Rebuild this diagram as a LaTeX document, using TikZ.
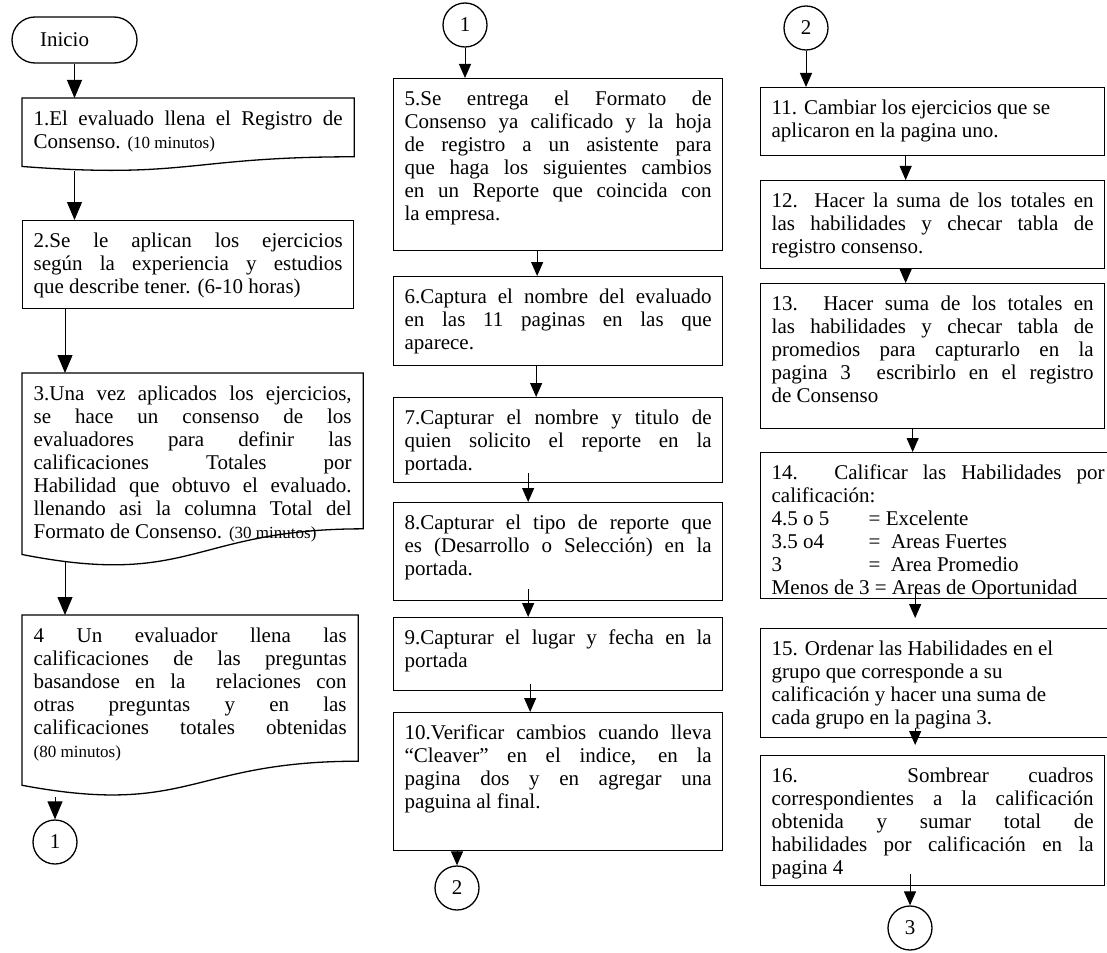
\documentclass[tikz,border=0pt]{standalone}
\usepackage{fontspec}
\setmainfont{Liberation Serif}
\usetikzlibrary{calc,arrows.meta}
\tolerance=9999
\newcommand{\fuente}{\fontsize{21}{23}\selectfont}
\newcommand{\menor}{\fontsize{17}{23}\selectfont}
\newcommand{\celda}[3]{\parbox[t][#2pt][t]{#1pt}{\vspace*{12pt}#3}}
\def\docborde(#1){\draw[borde] (#1.north west) -- (#1.north east) -- ($(#1.north east)!0.802!(#1.south east)$) .. controls ($(#1.north)!0.802!(#1.south)$) and ($(#1.north)!1.107!(#1.south)$) .. ($(#1.north west)!0.934!(#1.south west)$) -- cycle;}
\tikzset{
  borde/.style={line width=1.3pt},
  paso/.style={borde, draw, anchor=north west, inner xsep=11pt, inner ysep=0pt, font=\fuente},
  pasodoc/.style={paso, draw=none},
  conector/.style={borde, draw, circle, minimum size=44pt, inner sep=0pt, font=\fuente},
  inicio/.style={borde, draw, rounded corners=23pt, minimum width=125pt, minimum height=46pt, inner sep=0pt, font=\fuente},
  flecha/.style={line width=1pt, -{Triangle[width=12pt,length=14pt]}},
  flechag/.style={line width=1pt, -{Triangle[width=15pt,length=18pt]}}
}

\begin{document}
\begin{tikzpicture}[x=1pt,y=-1pt]
			%%%%% START %%%%%
			\useasboundingbox (0,0) rectangle (1107,952);
			
			% columna 1
			\node[inicio] (ini) at (74.5,40) {Inicio\hspace*{20pt}};
			
			\node[pasodoc] (b1) at (22,98) {\celda{309}{72}{1.El evaluado llena el Registro de\linebreak Consenso. {\menor (10 minutos)}}};
			\docborde(b1)
			
			\node[paso] (b2) at (22,220) {\celda{309}{88}{2.Se le aplican los ejercicios\linebreak según la experiencia y estudios\linebreak que describe tener. (6-10 horas)}};
			
			\node[pasodoc] (b3) at (22,373) {\celda{318}{193}{3.Una vez aplicados los ejercicios,\linebreak se hace un consenso de los\linebreak evaluadores para definir las\linebreak calificaciones Totales por\linebreak Habilidad que obtuvo el evaluado.\linebreak llenando asi la columna Total del\linebreak Formato de Consenso. {\menor (30 minutos)}}};
			\docborde(b3)
			
			\node[pasodoc] (b4) at (22,615) {\celda{313}{181}{4 Un evaluador llena las\linebreak calificaciones de las preguntas\linebreak basandose en la \ relaciones con\linebreak otras preguntas y en las\linebreak calificaciones totales obtenidas\linebreak {\menor (80 minutos)}}};
			\docborde(b4)
			
			\node[conector] (con1) at (55,842) {1};
			
			\draw[flechag] (ini.south) -- (ini.south |- b1.north);
			\draw[flechag] (b1.south -| ini.south) -- (b2.north -| ini.south);
			\draw[flechag] ([xshift=43pt]b2.south west) -- ([xshift=43pt]b2.south west |- b3.north);
			\draw[flechag] ([xshift=43pt,yshift=6pt]b3.south west) -- ([xshift=43pt]b3.south west |- b4.north);
			\draw[flechag] (con1.north |- b4.south) -- (con1.north);
			
			% columna 2
			\node[conector] (con1b) at (465,25) {1};
			
			\node[paso] (b5) at (393,78) {\celda{307}{172}{5.Se entrega el Formato de\linebreak Consenso ya calificado y la hoja\linebreak de registro a un asistente para\linebreak que haga los siguientes cambios\linebreak en un Reporte que coincida con\linebreak la empresa.}};
			\node[paso] (b6) at (393,276) {\celda{307}{89}{6.Captura el nombre del evaluado\linebreak en las 11 paginas en las que\linebreak aparece.}};
			\node[paso] (b7) at (393,397) {\celda{307}{85}{7.Capturar el nombre y titulo de\linebreak quien solicito el reporte en la\linebreak portada.}};
			\node[paso] (b8) at (393,502) {\celda{307}{98}{8.Capturar el tipo de reporte que\linebreak es (Desarrollo o Selección) en la\linebreak portada.}};
			\node[paso] (b9) at (393,617) {\celda{307}{73}{9.Capturar el lugar y fecha en la\linebreak portada}};
			\node[paso] (b10) at (393,712) {\celda{307}{138}{10.Verificar cambios cuando lleva\linebreak ``Cleaver'' en el indice, en la\linebreak pagina dos y en agregar una\linebreak paguina al final.}};
			
			\node[conector] (con2) at (457,888) {2};
			
			\draw[flecha] (con1b.south) -- (con1b.south |- b5.north);
			\draw[flecha] ([xshift=-21pt]b5.south) -- ([xshift=-21pt]b5.south |- b6.north);
			\draw[flecha] ([xshift=-22pt]b6.south) -- ([xshift=-22pt]b6.south |- b7.north);
			\draw[flecha] ([xshift=-30pt,yshift=10pt]b7.south) -- ([xshift=-30pt]b7.south |- b8.north);
			\draw[flecha] ([xshift=-30pt,yshift=12pt]b8.south) -- ([xshift=-30pt]b8.south |- b9.north);
			\draw[flecha] ([xshift=-28pt,yshift=7pt]b9.south) -- ([xshift=-28pt]b9.south |- b10.north);
			\draw[flecha] (con2.north |- b10.south) -- (con2.north);
			
			% columna 3
			\node[conector] (con2b) at (806,28) {2};
			
			\node[paso] (b11) at (760,87) {\celda{322}{68}{11. Cambiar los ejercicios que se\\ aplicaron en la pagina uno.}};
			\node[paso] (b12) at (760,180) {\celda{322}{88}{12. Hacer la suma de los totales en\linebreak las habilidades y checar tabla de\linebreak registro consenso.}};
			\node[paso] (b13) at (760,283) {\celda{322}{145}{13. Hacer suma de los totales en\linebreak las habilidades y checar tabla de\linebreak promedios para capturarlo en la\linebreak pagina 3 \ escribirlo en el registro\linebreak de Consenso}};
			\node[paso] (b14) at (760,452) {\celda{333}{146}{14. Calificar las Habilidades por\linebreak calificación:\\ \makebox[97pt][l]{4.5 o 5}= Excelente\\ \makebox[97pt][l]{3.5 o4}= \ Areas Fuertes\\ \makebox[97pt][l]{3}= \ Area Promedio\\ Menos de 3 = Areas de Oportunidad}};
			\node[paso] (b15) at (760,628) {\celda{333}{109}{15. Ordenar las Habilidades en el\\ grupo que corresponde a su\\ calificación y hacer una suma de\\ cada grupo en la pagina 3.}};
			\node[paso] (b16) at (760,755) {\celda{322}{130}{16. Sombrear cuadros\linebreak correspondientes a la calificación\linebreak obtenida y sumar total de\linebreak habilidades por calificación en la\linebreak pagina 4}};
			
			\node[conector] (con3) at (910,928) {3};
			
			\draw[flecha] (con2b.south) -- (con2b.south |- b11.north);
			\draw[flecha] ([xshift=-27pt]b11.south) -- ([xshift=-27pt]b11.south |- b12.north);
			\draw[flecha] ([xshift=-27pt]b12.south) -- ([xshift=-27pt]b12.south |- b13.north);
			\draw[flecha] ([xshift=-20pt]b13.south) -- ([xshift=-20pt]b13.south |- b14.north);
			\draw[flecha] ([xshift=-23pt,yshift=10pt]b14.south) -- ([xshift=-23pt,yshift=10pt]b14.south |- b15.north);
			\draw[flecha] ([xshift=-23pt,yshift=10pt]b15.south) -- ([xshift=-23pt,yshift=10pt]b15.south |- b16.north);
			\draw[flecha] ([yshift=12pt]con3.north |- b16.south) -- (con3.north);
			
			%%%%% END %%%%%
\end{tikzpicture}
\end{document}
